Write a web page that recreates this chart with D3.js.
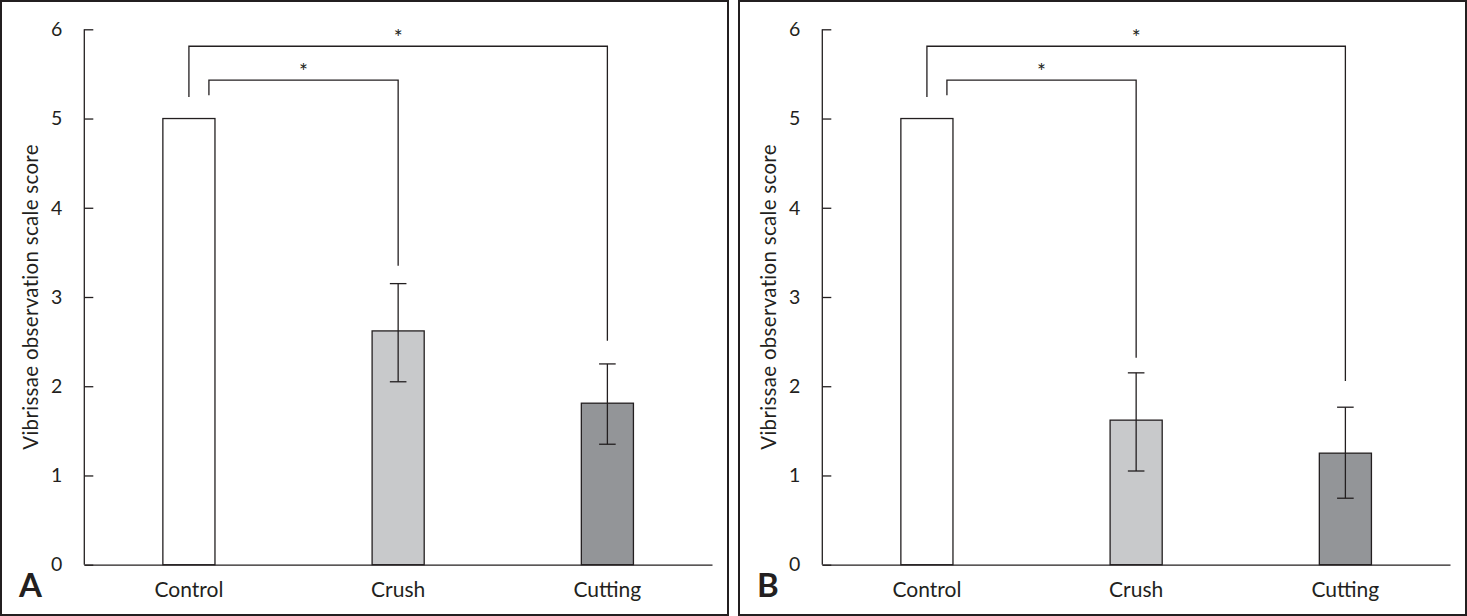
<!DOCTYPE html>
<html>
<head>
<meta charset="utf-8">
<script src="https://cdn.jsdelivr.net/npm/d3@7"></script>
<style>
  html, body { margin: 0; padding: 0; background: #fff; }
  svg { display: block; }
  text { font-family: Lato, "Open Sans", sans-serif; fill: #231f20; }
</style>
</head>
<body>
<svg id="chart" width="1467" height="616"></svg>
<script>
// ---- data ----
const categories = ["Control", "Crush", "Cutting"];
const panelLabels = ["A", "B"];
const meansA = [5, 2.62, 1.81];
const errLowA = [5, 2.05, 1.35];
const errHighA = [5, 3.15, 2.25];
const meansB = [5, 1.62, 1.25];
const errLowB = [5, 1.05, 0.745];
const errHighB = [5, 2.15, 1.765];
// significance bracket right-leg end values (Crush, Cutting)
const bracketEndA = [3.35, 2.51];
const bracketEndB = [2.32, 2.06];
const yTicks = [0, 1, 2, 3, 4, 5, 6];
const yTitle = "Vibrissae observation scale score";
const fills = ["#ffffff", "#c8c9cb", "#939598"];

const panels = [
  { label: panelLabels[0], means: meansA, lo: errLowA, hi: errHighA, ends: bracketEndA, ox: 0 },
  { label: panelLabels[1], means: meansB, lo: errLowB, hi: errHighB, ends: bracketEndB, ox: 738 }
];

const svg = d3.select("#chart");
const ink = "#231f20";

panels.forEach(p => {
  const g = svg.append("g").attr("transform", `translate(${p.ox},0)`);
  // panel border
  g.append("rect").attr("x", 1).attr("y", 1).attr("width", 727).attr("height", 614)
    .attr("fill", "none").attr("stroke", ink).attr("stroke-width", 2);

  const x = d3.scaleBand().domain(categories).range([84.3, 712]).padding(0);
  const y = d3.scaleLinear().domain([0, 6]).range([564.7, 29.3]);
  const bw = x.bandwidth() * 0.249;
  const cx = c => x(c) + x.bandwidth() / 2;

  // y axis
  const ya = g.append("g").attr("transform", "translate(84.3,0)")
    .call(d3.axisLeft(y).tickValues(yTicks).tickSize(-9).tickPadding(22).tickFormat(d3.format("d")));
  ya.select(".domain").attr("stroke", ink).attr("stroke-width", 1.3).attr("d", `M0,${y(6)}V${y(0)}`);
  ya.selectAll(".tick line").attr("stroke", ink).attr("stroke-width", 1.3);
  ya.selectAll(".tick text").attr("font-size", 19.5).attr("font-family", "Lato, sans-serif").attr("fill", ink);

  // x axis
  const xa = g.append("g").attr("transform", `translate(0,${y(0)})`)
    .call(d3.axisBottom(x).tickSize(0).tickPadding(17));
  xa.select(".domain").attr("stroke", ink).attr("stroke-width", 1.3);
  xa.selectAll(".tick text").attr("font-size", 21).attr("font-family", "Lato, sans-serif").attr("fill", ink);

  // y title
  g.append("text")
    .attr("transform", `translate(38,${(y(0) + y(6)) / 2}) rotate(-90)`)
    .attr("text-anchor", "middle").attr("font-size", 20.5).attr("letter-spacing", 0.3).text(yTitle);

  // bars
  g.selectAll("rect.bar").data(categories).join("rect").attr("class", "bar")
    .attr("x", c => cx(c) - bw / 2).attr("width", bw)
    .attr("y", (c, i) => y(p.means[i])).attr("height", (c, i) => y(0) - y(p.means[i]))
    .attr("fill", (c, i) => fills[i]).attr("stroke", ink).attr("stroke-width", 1.3);

  // error bars (skip control)
  const eb = categories.slice(1).map((c, k) => ({ c, i: k + 1 }));
  const capW = 8.3;
  eb.forEach(({ c, i }) => {
    const xc = cx(c);
    g.append("line").attr("x1", xc).attr("x2", xc).attr("y1", y(p.lo[i])).attr("y2", y(p.hi[i]))
      .attr("stroke", ink).attr("stroke-width", 1.3);
    [p.lo[i], p.hi[i]].forEach(v => {
      g.append("line").attr("x1", xc - capW).attr("x2", xc + capW).attr("y1", y(v)).attr("y2", y(v))
        .attr("stroke", ink).attr("stroke-width", 1.3);
    });
  });

  // significance brackets
  const brackets = [
    { x0: cx(categories[0]) + 20, x1: cx(categories[1]), top: 5.43, leftEnd: 5.26, rightEnd: p.ends[0] },
    { x0: cx(categories[0]), x1: cx(categories[2]), top: 5.81, leftEnd: 5.24, rightEnd: p.ends[1] }
  ];
  brackets.forEach(b => {
    g.append("path")
      .attr("d", `M${b.x0},${y(b.leftEnd)}V${y(b.top)}H${b.x1}V${y(b.rightEnd)}`)
      .attr("fill", "none").attr("stroke", ink).attr("stroke-width", 1.3);
    g.append("text").attr("x", (b.x0 + b.x1) / 2).attr("y", y(b.top) - 1)
      .attr("text-anchor", "middle").attr("font-size", 21).text("*");
  });

  // panel label
  g.append("text").attr("x", 19).attr("y", 597).attr("font-size", 33)
    .attr("font-weight", "bold").attr("font-family", "Liberation Sans, Arial, sans-serif").text(p.label);
});
</script>
</body>
</html>
